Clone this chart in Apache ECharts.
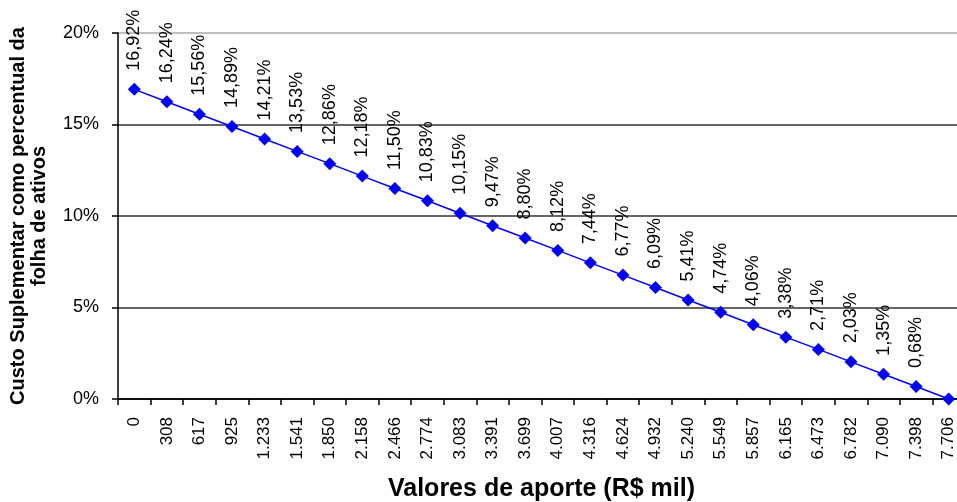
<!DOCTYPE html>
<html>
<head>
<meta charset="utf-8">
<script src="https://cdn.jsdelivr.net/npm/echarts@6/dist/echarts.min.js"></script>
<style>
  html, body { margin: 0; padding: 0; background: #fff; }
  #chart { width: 957px; height: 502px; }
</style>
</head>
<body>
<div id="chart"></div>
<script>
// valores de aporte (R$ mil)
var categorias = ['0', '308', '617', '925', '1.233', '1.541', '1.850', '2.158', '2.466', '2.774',
  '3.083', '3.391', '3.699', '4.007', '4.316', '4.624', '4.932', '5.240', '5.549', '5.857',
  '6.165', '6.473', '6.782', '7.090', '7.398', '7.706'];
// custo suplementar (%)
var custo = [16.92, 16.24, 15.56, 14.89, 14.21, 13.53, 12.86, 12.18, 11.50, 10.83,
  10.15, 9.47, 8.80, 8.12, 7.44, 6.77, 6.09, 5.41, 4.74, 4.06,
  3.38, 2.71, 2.03, 1.35, 0.68, 0.00];
var yTicks = [0, 5, 10, 15, 20];

var fonte = '"Liberation Sans", Arial, sans-serif';
var chart = echarts.init(document.getElementById('chart'));

var option = {
  animation: false,
  grid: { left: 118, top: 33, width: 847, height: 366, containLabel: false, outerBoundsMode: 'none' },
  xAxis: {
    type: 'category',
    data: categorias,
    boundaryGap: true,
    name: 'Valores de aporte (R$ mil)',
    nameLocation: 'middle',
    nameGap: 78,
    nameTextStyle: { fontFamily: fonte, fontSize: 25, fontWeight: 'bold', color: '#000' },
    axisLine: { lineStyle: { color: '#000', width: 1.5 } },
    axisTick: { show: true, length: 6, alignWithLabel: false, lineStyle: { color: '#000', width: 1.5 } },
    axisLabel: { interval: 0, rotate: 90, margin: 18, fontFamily: fonte, fontSize: 17, color: '#000' }
  },
  yAxis: {
    type: 'value',
    min: yTicks[0],
    max: yTicks[yTicks.length - 1],
    interval: 5,
    name: 'Custo Suplementar como percentual da\nfolha de ativos',
    nameLocation: 'middle',
    nameGap: 68,
    nameTextStyle: { fontFamily: fonte, fontSize: 20, fontWeight: 'bold', color: '#000', lineHeight: 21 },
    axisLine: { show: true, lineStyle: { color: '#000', width: 1.5 } },
    axisTick: { show: true, length: 6, lineStyle: { color: '#000', width: 1.5 } },
    axisLabel: { formatter: '{value}%', margin: 19, fontFamily: fonte, fontSize: 18, color: '#000' },
    splitLine: { show: true, lineStyle: { color: ['#000', '#333', '#333', '#333', '#aaa'], width: 1.5 } }
  },
  series: [{
    name: 'Custo',
    type: 'line',
    data: custo,
    symbol: 'diamond',
    symbolSize: 13,
    lineStyle: { color: '#0000ff', width: 1.5 },
    itemStyle: { color: '#0000ff' },
    label: {
      show: true,
      position: 'top',
      distance: 12,
      rotate: 90,
      align: 'left',
      verticalAlign: 'middle',
      fontFamily: fonte,
      fontSize: 18,
      color: '#000',
      formatter: function (p) {
        if (p.value === 0) return '';
        return p.value.toFixed(2).replace('.', ',') + '%';
      }
    }
  }]
};

chart.setOption(option);
</script>
</body>
</html>
